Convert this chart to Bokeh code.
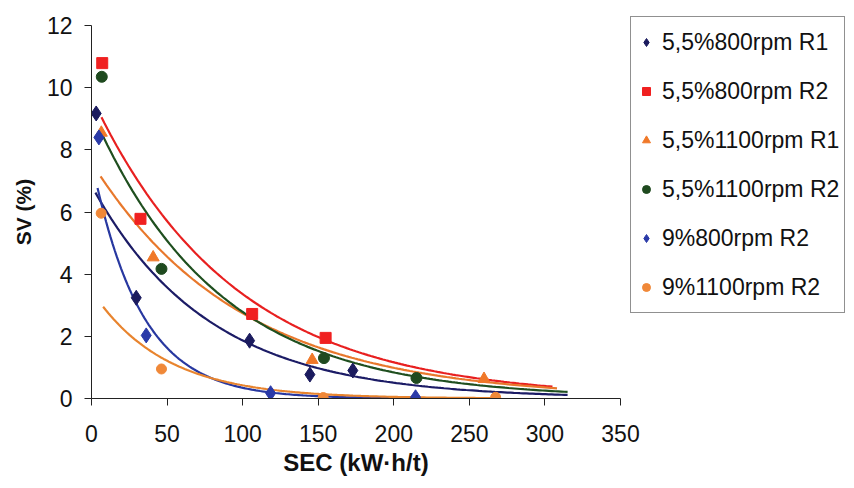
import numpy as np
from bokeh.plotting import figure
from bokeh.models import Range1d, FixedTicker, Legend, LegendItem, ColumnDataSource
from bokeh.embed import file_html
from bokeh.resources import INLINE

# ---- data ----
series_names = ["5,5%800rpm R1", "5,5%800rpm R2", "5,5%1100rpm R1",
                "5,5%1100rpm R2", "9%800rpm R2", "9%1100rpm R2"]

s1_x = [3.1, 29.6, 104.6, 144.5, 172.9]
s1_y = [9.17, 3.24, 1.86, 0.77, 0.90]

s2_x = [7.1, 32.4, 106.3, 154.9]
s2_y = [10.79, 5.78, 2.72, 1.95]

s3_x = [6.5, 40.8, 146.0, 259.7]
s3_y = [8.55, 4.54, 1.24, 0.63]

s4_x = [6.8, 46.3, 153.8, 215.0]
s4_y = [10.35, 4.17, 1.30, 0.66]

s5_x = [4.9, 36.2, 118.5, 214.4]
s5_y = [8.40, 2.03, 0.17, 0.04]

s6_x = [6.4, 46.3, 153.3, 267.4]
s6_y = [5.96, 0.95, 0.03, 0.04]

# exponential trendlines y = a*exp(-b*x)
trend_a = [6.85, 9.7, 7.6, 9.25, 7.67, 3.47]
trend_b = [0.013, 0.0106, 0.0102, 0.012, 0.031, 0.021]
trend_x0 = [2.6, 6.6, 6.0, 6.4, 4.0, 7.7]
trend_x1 = [315, 305, 308, 315, 215, 267]

x_ticks = [0, 50, 100, 150, 200, 250, 300, 350]
y_ticks = [0, 2, 4, 6, 8, 10, 12]

# ---- styling ----
marker_colors = ["#1b1b5e", "#f02020", "#f07828", "#1f4a1f", "#2a3aa8", "#f08838"]
line_colors = ["#1c1c66", "#e82020", "#e8782c", "#1f4f1f", "#2838a0", "#e8842e"]
markers = ["diamond", "square", "triangle", "circle", "diamond", "circle"]
msizes = [15, 11, 12, 11, 15, 10]
FONT = "Liberation Sans"

p = figure(frame_width=529, frame_height=373, output_backend="svg", toolbar_location=None,
           x_range=Range1d(0, 350), y_range=Range1d(0, 12),
           min_border_left=91, min_border_right=234, min_border_top=25,
           min_border_bottom=90)
p.background_fill_color = "white"
p.border_fill_color = "white"
p.outline_line_color = None
p.xgrid.visible = False
p.ygrid.visible = False

xs_all = [s1_x, s2_x, s3_x, s4_x, s5_x, s6_x]
ys_all = [s1_y, s2_y, s3_y, s4_y, s5_y, s6_y]

# trendlines
for i in range(6):
    tx = np.linspace(trend_x0[i], trend_x1[i], 150)
    ty = trend_a[i] * np.exp(-trend_b[i] * tx)
    p.line(tx, ty, line_color=line_colors[i], line_width=2.2)

items = []
for i in range(6):
    src = ColumnDataSource(dict(x=xs_all[i], y=ys_all[i]))
    r = p.scatter("x", "y", source=src, marker=markers[i], size=msizes[i],
                  fill_color=marker_colors[i], line_color=marker_colors[i])
    items.append(LegendItem(label=series_names[i], renderers=[r]))

legend = Legend(items=items, location=(10, 85))
legend.label_text_font = FONT
legend.label_text_font_size = "23px"
legend.label_text_color = "#111111"
legend.glyph_width = 20
legend.glyph_height = 40
legend.label_height = 40
legend.label_standoff = 6
legend.spacing = 9
legend.padding = 5
legend.margin = 0
legend.border_line_color = "#222222"
legend.border_line_width = 1
legend.background_fill_color = "white"
legend.background_fill_alpha = 1.0
p.add_layout(legend, "right")

for ax in (p.xaxis[0], p.yaxis[0]):
    ax.axis_line_color = "#222222"
    ax.axis_line_width = 1
    ax.major_tick_line_color = "#222222"
    ax.major_tick_out = 7
    ax.major_tick_in = 0
    ax.minor_tick_line_color = None
    ax.major_label_text_font = FONT
    ax.major_label_text_font_size = "23px"
    ax.major_label_text_color = "#111111"
    ax.axis_label_text_font = FONT
    ax.axis_label_text_font_style = "bold"
    ax.axis_label_text_color = "#111111"

p.xaxis.ticker = FixedTicker(ticks=x_ticks)
p.yaxis.ticker = FixedTicker(ticks=y_ticks)
p.xaxis.axis_label = "SEC (kW·h/t)"
p.yaxis.axis_label = "SV (%)"
p.xaxis.axis_label_text_font_size = "24px"
p.yaxis.axis_label_text_font_size = "21px"
p.xaxis.major_label_standoff = 19
p.yaxis.major_label_standoff = 12
p.xaxis.axis_label_standoff = 4
p.yaxis.axis_label_standoff = 9

open("out.html", "w").write(file_html(p, INLINE))
